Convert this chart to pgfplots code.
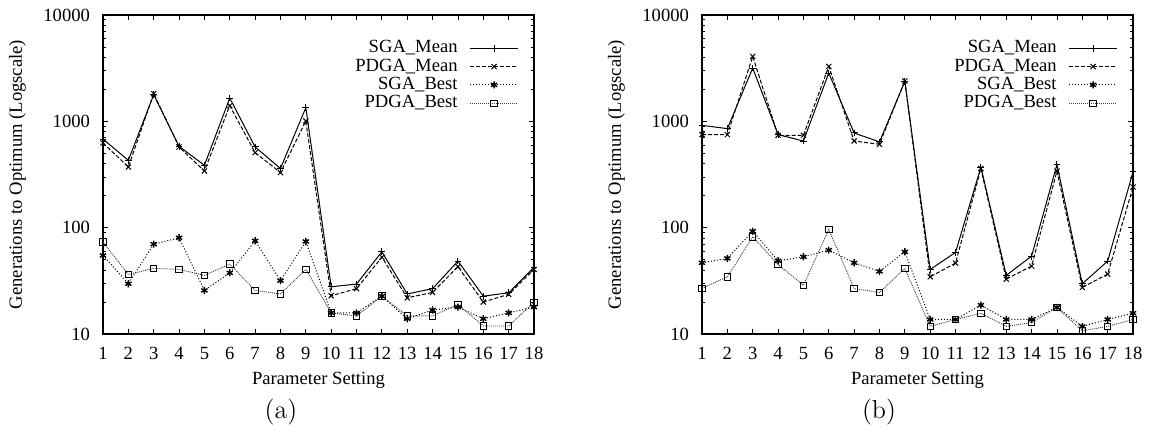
\documentclass[border=0pt]{standalone}
\usepackage{fontspec}
\usepackage{pgfplots}
\pgfplotsset{compat=1.18}
\newfontfamily\tf{Liberation Serif}
\newcommand\tfs{\tf\fontsize{9.3}{11}\selectfont}
\tikzset{
 sgam/.style={black, line width=0.5pt, mark=+, mark size=1.7pt, mark options={solid}},
 pdgam/.style={black, line width=0.5pt, dash pattern=on 2pt off 1pt, mark=x, mark size=1.8pt, mark options={solid}},
 sgab/.style={black, line width=0.5pt, dash pattern=on 0.5pt off 1pt, mark=asterisk, mark size=1.8pt, mark options={solid, line width=0.7pt}},
 pdgab/.style={black!75, line width=0.45pt, dash pattern=on 0.5pt off 0.5pt, mark=square, mark size=1.6pt, mark options={solid, black}},
}
\pgfplotsset{
 legend image code/.code={\draw[mark repeat=2,mark phase=2,#1] plot coordinates {(0pt,0pt) (12pt,0pt) (24pt,0pt)};},
 every tick/.style={black, line width=0.4pt},
}
\begin{document}
\begin{tikzpicture}
\path[use as bounding box] (-51.5pt,-51pt) rectangle (523pt,167pt);
\begin{axis}[
  scale only axis, width=215.5pt, height=159.5pt,
  font=\tfs,
  /pgf/number format/assume math mode=true,
  ymode=log, ymin=10, ymax=10000, xmin=1, xmax=18,
  xtick={1,...,18}, minor x tick num=0,
  ytick={10,100,1000,10000}, yticklabels={10,100,1000,10000},
  xticklabel style={yshift=-3pt, font=\tfs},
  yticklabel style={xshift=-3pt, font=\tfs},
  xlabel={Parameter Setting},
  ylabel={Generations to Optimum (Logscale)},
  xlabel style={at={(axis description cs:0.5,-0.1442)}, anchor=center, font=\tfs},
  ylabel style={at={(axis description cs:-0.1984,0.5)}, anchor=center, font=\tfs},
  tick align=inside,
  major tick length=2.5pt, minor tick length=1.5pt,
  axis line style={line width=0.7pt},
  clip=false,
  legend cell align=right,
  legend plot pos=right,
  legend style={at={(1,1)}, anchor=north east, xshift=-7.5pt, yshift=-12.6pt, draw=none, fill=none, inner sep=0pt, font=\tfs, row sep=1.45pt, column sep=6pt, nodes={inner sep=0pt, text height=6.2pt, text depth=1.5pt}},
]
\addplot[sgam] coordinates {(1,680) (2,430) (3,1780) (4,582) (5,386) (6,1655) (7,574) (8,360) (9,1345) (10,27.8) (11,29.5) (12,59.3) (13,23.8) (14,26.7) (15,48.5) (16,22.7) (17,24.4) (18,42.3)};
\addlegendentry{SGA\_Mean}
\addplot[pdgam] coordinates {(1,626) (2,372) (3,1820) (4,574) (5,341) (6,1403) (7,508) (8,330) (9,1007) (10,22.9) (11,26.7) (12,52.8) (13,21.9) (14,24.6) (15,43) (16,20) (17,23.6) (18,40.5)};
\addlegendentry{PDGA\_Mean}
\addplot[sgab] coordinates {(1,54.8) (2,29.7) (3,70) (4,80.3) (5,25.7) (6,37.6) (7,75.2) (8,31.7) (9,74.2) (10,15.8) (11,15.8) (12,22.7) (13,13.9) (14,16.8) (15,17.9) (16,13.9) (17,15.8) (18,17.9)};
\addlegendentry{SGA\_Best}
\addplot[pdgab] coordinates {(1,73.1) (2,36.3) (3,41.4) (4,40.5) (5,35.6) (6,45.4) (7,25.7) (8,23.8) (9,40.5) (10,15.8) (11,14.8) (12,22.7) (13,14.8) (14,14.8) (15,19) (16,11.9) (17,11.9) (18,19.9)};
\addlegendentry{PDGA\_Best}
\end{axis}
\begin{axis}[xshift=299.5pt,
  scale only axis, width=215.5pt, height=159.5pt,
  font=\tfs,
  /pgf/number format/assume math mode=true,
  ymode=log, ymin=10, ymax=10000, xmin=1, xmax=18,
  xtick={1,...,18}, minor x tick num=0,
  ytick={10,100,1000,10000}, yticklabels={10,100,1000,10000},
  xticklabel style={yshift=-3pt, font=\tfs},
  yticklabel style={xshift=-3pt, font=\tfs},
  xlabel={Parameter Setting},
  ylabel={Generations to Optimum (Logscale)},
  xlabel style={at={(axis description cs:0.5,-0.1442)}, anchor=center, font=\tfs},
  ylabel style={at={(axis description cs:-0.1984,0.5)}, anchor=center, font=\tfs},
  tick align=inside,
  major tick length=2.5pt, minor tick length=1.5pt,
  axis line style={line width=0.7pt},
  clip=false,
  legend cell align=right,
  legend plot pos=right,
  legend style={at={(1,1)}, anchor=north east, xshift=-7.5pt, yshift=-12.6pt, draw=none, fill=none, inner sep=0pt, font=\tfs, row sep=1.45pt, column sep=6pt, nodes={inner sep=0pt, text height=6.2pt, text depth=1.5pt}},
]
\addplot[sgam] coordinates {(1,916) (2,854) (3,3170) (4,750) (5,653) (6,2845) (7,777) (8,640) (9,2376) (10,40.5) (11,58.5) (12,372) (13,35.6) (14,54) (15,392) (16,29.7) (17,48.5) (18,334)};
\addlegendentry{SGA\_Mean}
\addplot[pdgam] coordinates {(1,750) (2,750) (3,4075) (4,739) (5,739) (6,3283) (7,653) (8,608) (9,2400) (10,34.5) (11,46.4) (12,360) (13,32.8) (14,43.5) (15,340) (16,27.4) (17,36.6) (18,241)};
\addlegendentry{PDGA\_Mean}
\addplot[sgab] coordinates {(1,46.7) (2,51.4) (3,92.7) (4,48.8) (5,53.2) (6,61.5) (7,46.7) (8,38.8) (9,59.3) (10,13.7) (11,13.7) (12,18.7) (13,13.7) (14,13.7) (15,17.8) (16,11.8) (17,13.7) (18,15.7)};
\addlegendentry{SGA\_Best}
\addplot[pdgab] coordinates {(1,26.9) (2,34.5) (3,82) (4,45.1) (5,28.7) (6,96.2) (7,26.7) (8,24.6) (9,41.4) (10,11.8) (11,13.7) (12,15.7) (13,11.8) (14,12.8) (15,17.8) (16,10.7) (17,11.8) (18,13.7)};
\addlegendentry{PDGA\_Best}
\end{axis}
\node[font=\fontsize{13}{15}\selectfont] at (89pt,-39pt) {(a)};
\node[font=\fontsize{13}{15}\selectfont] at (388pt,-39pt) {(b)};
\end{tikzpicture}
\end{document}
